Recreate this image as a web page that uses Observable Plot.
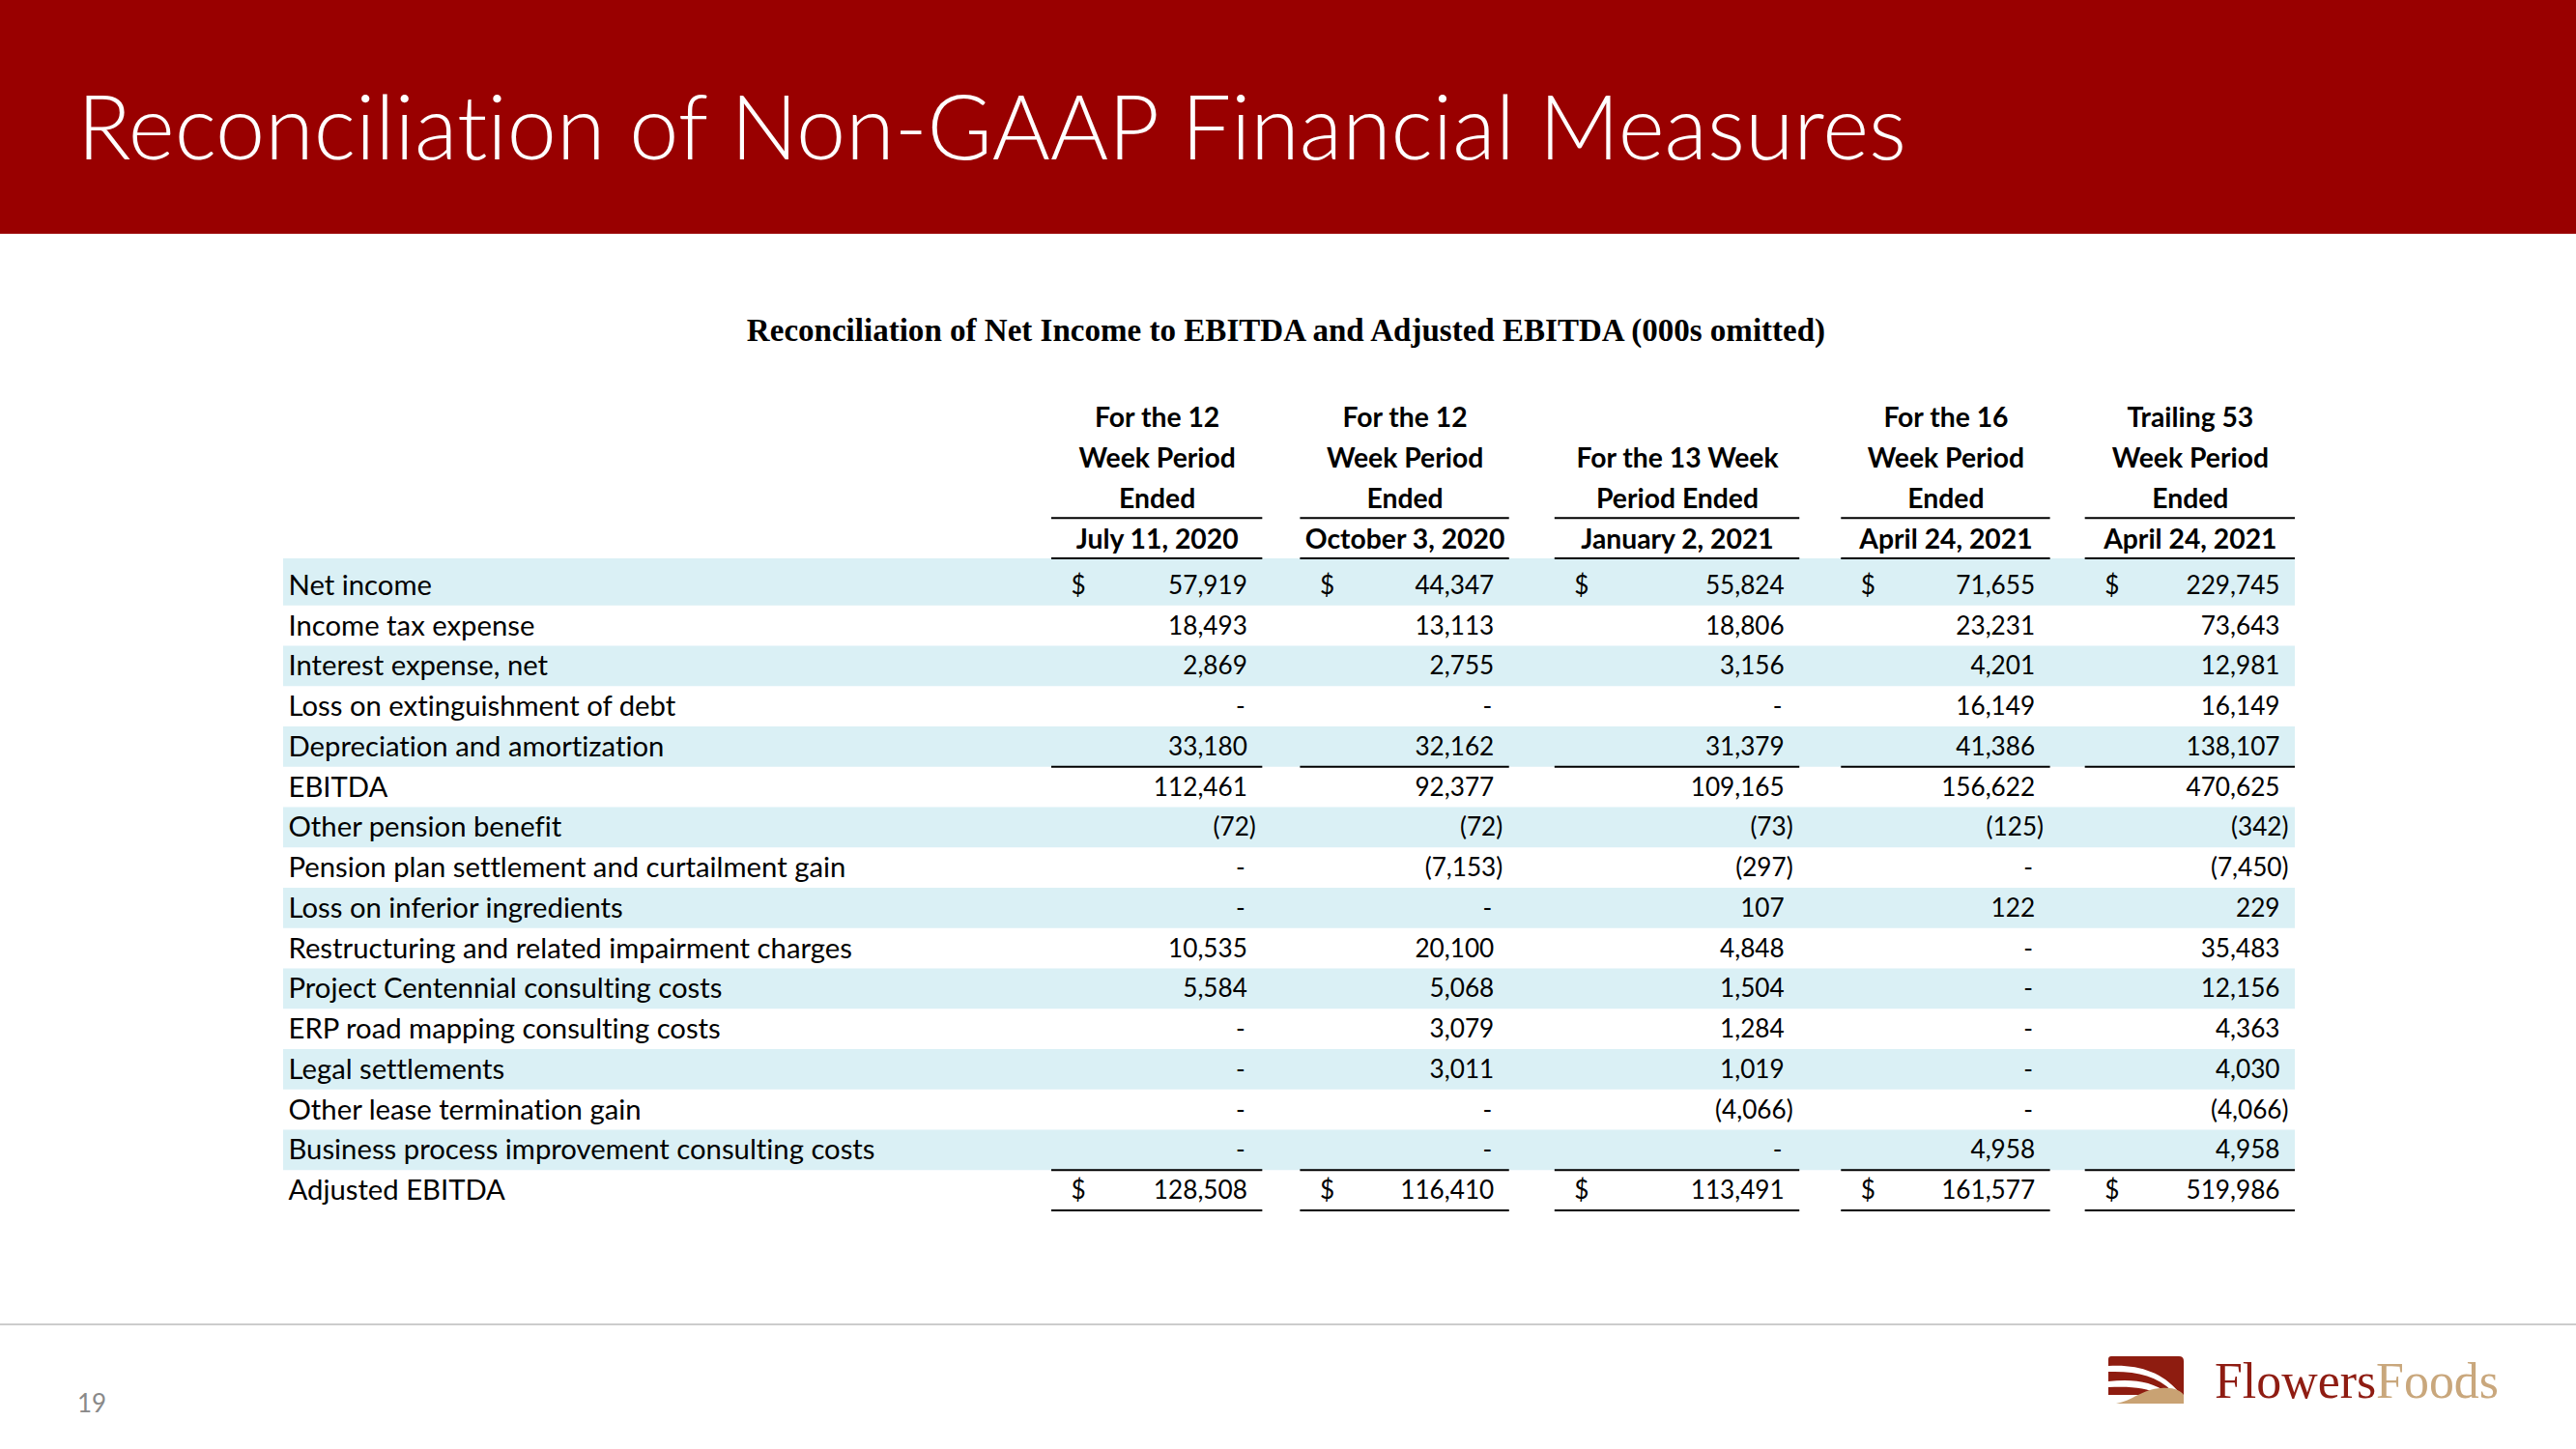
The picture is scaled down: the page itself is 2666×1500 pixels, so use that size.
<!DOCTYPE html>
<html>
<head>
<meta charset="utf-8">
<script src="https://cdn.jsdelivr.net/npm/d3@7"></script>
<script src="https://cdn.jsdelivr.net/npm/@observablehq/plot@0.6"></script>
<style>
  html, body { margin: 0; padding: 0; background: #ffffff; }
  body { width: 2666px; height: 1500px; position: relative; overflow: hidden; }
  #band { position: absolute; left: 0; top: 0; width: 2666px; height: 242px; background: #990000; z-index: 0; }
  #decor { position: absolute; left: 0; top: 0; z-index: 2; }
  #chart { position: absolute; left: 0; top: 0; z-index: 1; }
  svg text { font-variant-ligatures: none; font-feature-settings: "liga" 0, "clig" 0; }
</style>
</head>
<body>
<div id="band"></div>
<div id="chart"></div>
<svg id="decor" width="2666" height="1500" xmlns="http://www.w3.org/2000/svg"></svg>
<script>
// ---------------- DATA ----------------
const pageTitle = "Reconciliation of Non-GAAP Financial Measures";
const tableTitle = "Reconciliation of Net Income to EBITDA and Adjusted EBITDA (000s omitted)";
const pageNumber = "19";

const columns = ["c1", "c2", "c3", "c4", "c5"];
const headerLine1 = ["For the 12", "For the 12", "", "For the 16", "Trailing 53"];
const headerLine2 = ["Week Period", "Week Period", "For the 13 Week", "Week Period", "Week Period"];
const headerLine3 = ["Ended", "Ended", "Period Ended", "Ended", "Ended"];
const headerDates = ["July 11, 2020", "October 3, 2020", "January 2, 2021", "April 24, 2021", "April 24, 2021"];

const rowLabels = [
  "Net income",
  "Income tax expense",
  "Interest expense, net",
  "Loss on extinguishment of debt",
  "Depreciation and amortization",
  "EBITDA",
  "Other pension benefit",
  "Pension plan settlement and curtailment gain",
  "Loss on inferior ingredients",
  "Restructuring and related impairment charges",
  "Project Centennial consulting costs",
  "ERP road mapping consulting costs",
  "Legal settlements",
  "Other lease termination gain",
  "Business process improvement consulting costs",
  "Adjusted EBITDA"
];

const july11_2020   = [57919, 18493, 2869, 0, 33180, 112461, -72, 0, 0, 10535, 5584, 0, 0, 0, 0, 128508];
const october3_2020 = [44347, 13113, 2755, 0, 32162, 92377, -72, -7153, 0, 20100, 5068, 3079, 3011, 0, 0, 116410];
const january2_2021 = [55824, 18806, 3156, 0, 31379, 109165, -73, -297, 107, 4848, 1504, 1284, 1019, -4066, 0, 113491];
const april24_2021  = [71655, 23231, 4201, 16149, 41386, 156622, -125, 0, 122, 0, 0, 0, 0, 0, 4958, 161577];
const trailing53    = [229745, 73643, 12981, 16149, 138107, 470625, -342, -7450, 229, 35483, 12156, 4363, 4030, -4066, 4958, 519986];

const dollarRows = ["Net income", "Adjusted EBITDA"];
const subtotalRows = ["Depreciation and amortization", "Business process improvement consulting costs", "Adjusted EBITDA"];

// ---------------- LAYOUT / STYLE ----------------
const W = 2666, H = 1500;
const X0 = 1088, X1 = 2375;              // extent of the value columns
const colWidths = [218, 216, 253, 216, 217]; // relative column widths (spreadsheet-like)
const colGaps = [39, 47, 43, 36];            // spacer columns between them
const Y0 = 418, Y1 = 1253;
const shade = "#DAF0F5";
const headerKeys = ["h0", "h1", "h2", "h3"];
const yStep = (Y1 - Y0) / (headerKeys.length + rowLabels.length);
const lineShift = -7, headShift = -6;

const colLeft = [], colRight = [];
{ let acc = 0; colWidths.forEach((w, i) => { colLeft.push(acc); colRight.push(acc + w); acc += w + (colGaps[i] || 0); }); }
const unitsTotal = colRight[colRight.length - 1];
const ci = new Map(columns.map((c, i) => [c, i]));
const L = c => colLeft[ci.get(c)], R = c => colRight[ci.get(c)], C = c => (L(c) + R(c)) / 2;

const ctx = document.createElement("canvas").getContext("2d");
function fitSize(text, weight, family, target) {
  ctx.font = `${weight} 100px ${family}`;
  return 100 * target / ctx.measureText(text).width;
}
const bodyFont = "Lato";
const bodySize = fitSize("Business process improvement consulting costs", 400, bodyFont, 608);
const numSize = Math.min(bodySize, fitSize("229,745", 400, bodyFont, 97));
const headSize = fitSize("For the 13 Week", 700, bodyFont, 210);
const titleSize = fitSize(pageTitle, 300, bodyFont, 1899);
const subSize = fitSize(tableTitle, 700, "'Liberation Serif'", 1122);
const logoSize = fitSize("FlowersFoods", 400, "'Liberation Serif'", 294);

// ---------------- TABLE DATA ----------------
const series = [july11_2020, october3_2020, january2_2021, april24_2021, trailing53];
const cells = [];
series.forEach((vals, i) => vals.forEach((v, ri) => cells.push({col: columns[i], row: rowLabels[ri], value: v})));
const headerCells = [];
[headerLine1, headerLine2, headerLine3, headerDates].forEach((line, li) =>
  line.forEach((t, i) => { if (t) headerCells.push({col: columns[i], line: headerKeys[li], text: t}); }));
const fmt = d3.format(",");
const shadedRows = rowLabels.filter((d, i) => i % 2 === 0);

const lbl = {fontFamily: bodyFont, fontSize: bodySize, fill: "#000"};
const num = {fontFamily: bodyFont, fontSize: numSize, fill: "#000"};
const underline = {fill: "#000", inset: 0, insetTop: yStep - 1, insetBottom: -1};

const chart = Plot.plot({
  width: W, height: H,
  marginLeft: 293, marginRight: W - X1, marginTop: 0, marginBottom: 0,
  x: {type: "linear", domain: [0, unitsTotal], range: [X0, X1], axis: null},
  y: {type: "band", domain: [...headerKeys, ...rowLabels], range: [Y0, Y1], padding: 0, round: false, axis: null},
  style: {background: "transparent", overflow: "visible"},
  marks: [
    // shaded rows
    Plot.cell(shadedRows.slice(1), {y: d => d, fill: shade, inset: 0}),
    Plot.cell(shadedRows.slice(0, 1), {y: d => d, fill: shade, inset: 0, insetTop: lineShift}),
    // header underlines
    Plot.barX(columns, {x1: L, x2: R, y: () => "h2", ...underline, dy: lineShift}),
    Plot.barX(columns, {x1: L, x2: R, y: () => "h3", ...underline, dy: lineShift}),
    // subtotal underlines
    Plot.barX(cells.filter(d => subtotalRows.includes(d.row)), {x1: d => L(d.col), x2: d => R(d.col), y: "row", ...underline}),
    // header text
    Plot.text(headerCells, {x: d => C(d.col), y: "line", text: "text", dy: headShift, fontFamily: bodyFont, fontSize: headSize, fontWeight: 700, fill: "#000"}),
    // row labels
    Plot.text(rowLabels, {y: d => d, text: d => d, frameAnchor: "left", textAnchor: "start", dx: 5, ...lbl}),
    // dollar signs
    Plot.text(cells.filter(d => dollarRows.includes(d.row)), {x: d => L(d.col), y: "row", text: () => "$", textAnchor: "start", dx: 20, ...num}),
    // positive values
    Plot.text(cells.filter(d => d.value > 0), {x: d => R(d.col), y: "row", text: d => fmt(d.value), textAnchor: "end", dx: -16, ...num}),
    // negative values
    Plot.text(cells.filter(d => d.value < 0), {x: d => R(d.col), y: "row", text: d => "(" + fmt(-d.value) + ")", textAnchor: "end", dx: -7, ...num}),
    // zero values
    Plot.text(cells.filter(d => d.value === 0), {x: d => R(d.col), y: "row", text: () => "-", textAnchor: "middle", dx: -23, ...num})
  ]
});
document.getElementById("chart").appendChild(chart);

// ---------------- DECORATION (title, subtitle, footer, logo) ----------------
const NS = "http://www.w3.org/2000/svg";
const decor = document.getElementById("decor");
function el(name, attrs, text, parent) {
  const e = document.createElementNS(NS, name);
  for (const k in attrs) e.setAttribute(k, attrs[k]);
  if (text != null) e.textContent = text;
  (parent || decor).appendChild(e);
  return e;
}
el("text", {x: 80, y: 165, fill: "#ffffff", "font-family": bodyFont, "font-weight": 300, "font-size": titleSize}, pageTitle);
el("text", {x: 1331, y: 353, fill: "#000", "text-anchor": "middle", "font-family": "Liberation Serif", "font-weight": 700, "font-size": subSize}, tableTitle);
el("rect", {x: 0, y: 1370, width: W, height: 2, fill: "#cccccc"});
el("text", {x: 80, y: 1462, fill: "#898989", "font-family": bodyFont, "font-size": 26}, pageNumber);
// logo mark
const g = el("g", {transform: "translate(2182,1404)"});
el("path", {d: "M0,3 Q0,0 3,0 L73,0 Q78,0 78,5 L78,40 L0,40 Z", fill: "#8e1c10"}, null, g);
el("path", {d: "M0,10 C30,8 55,16 72,36 L66,36 C50,20 28,15 0,16 Z", fill: "#ffffff"}, null, g);
el("path", {d: "M0,26 C25,23 45,26 62,38 L52,40 C40,32 22,31 0,32 Z", fill: "#ffffff"}, null, g);
el("path", {d: "M8,49 C25,46 35,34 55,33 C68,32 75,36 78,40 L78,49 Z", fill: "#c9a273"}, null, g);
const logo = el("text", {x: 2292, y: 1447, "font-family": "Liberation Serif", "font-size": logoSize});
el("tspan", {fill: "#8f1c12"}, "Flowers", logo);
el("tspan", {fill: "#c9a77c"}, "Foods", logo);
</script>
</body>
</html>
